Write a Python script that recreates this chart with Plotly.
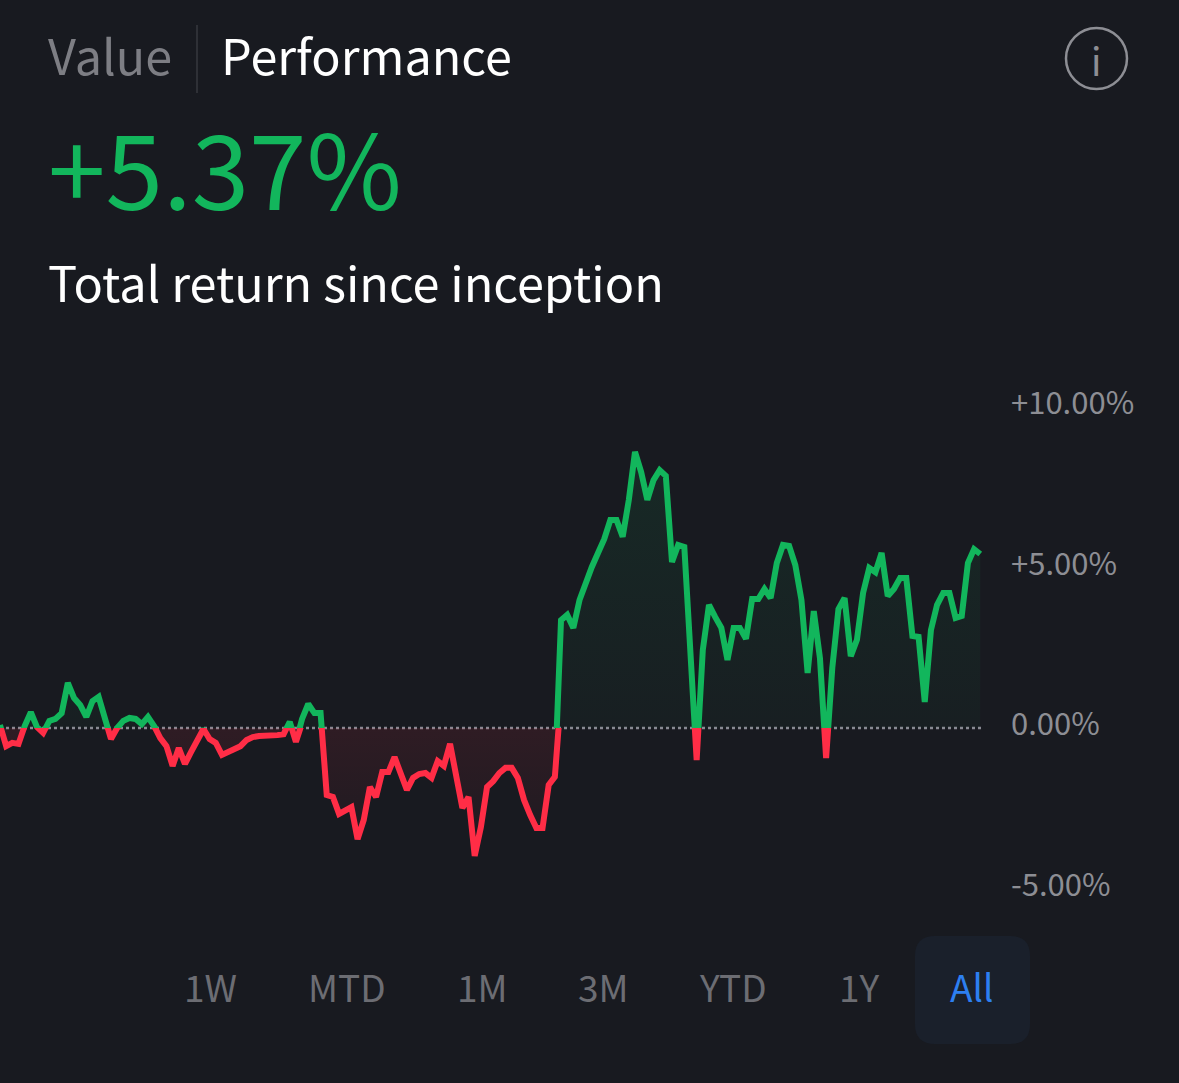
import plotly.graph_objects as go

W = 1179
H = 1083

# total return in %
returns = [
    0.09, -0.56, -0.46, -0.49, 0.06, 0.49, 0.03, -0.15, 0.22, 0.28,
    0.46, 1.39, 0.93, 0.71, 0.34, 0.83, 0.96, 0.31, -0.34, 0.00,
    0.22, 0.31, 0.28, 0.12, 0.34, 0.06, -0.31, -0.56, -1.17, -0.62,
    -1.11, -0.74, -0.37, -0.03, -0.34, -0.46, -0.83, -0.74, -0.65, -0.56,
    -0.37, -0.28, -0.25, -0.25, -0.22, -0.22, -0.19, 0.19, -0.43, 0.28,
    0.74, 0.46, 0.46, -2.07, -2.13, -2.65, -2.56, -2.44, -3.43, -2.84,
    -1.82, -2.13, -1.36, -1.36, -0.90, -1.45, -1.91, -1.54, -1.42, -1.39,
    -1.54, -1.02, -1.17, -0.49, -1.51, -2.47, -2.13, -3.95, -3.06, -1.82,
    -1.64, -1.39, -1.23, -1.23, -1.54, -2.22, -2.69, -3.09, -3.09, -1.76,
    -1.51, 3.33, 3.49, 3.09, 3.95, 4.51, 4.97, 5.40, 5.83, 6.42,
    6.42, 5.90, 7.04, 8.52, 7.90, 7.04, 7.65, 7.96, 7.78, 5.12,
    5.65, 5.59, 2.31, -0.99, 2.41, 3.80, 3.43, 3.09, 2.10, 3.09,
    3.09, 2.75, 3.98, 3.98, 4.29, 4.01, 5.09, 5.65, 5.62, 5.03,
    3.95, 1.70, 3.61, 2.16, -0.93, 1.85, 3.67, 4.01, 2.22, 2.72,
    4.17, 4.94, 4.81, 5.40, 4.07, 4.29, 4.63, 4.63, 2.84, 2.81,
    0.80, 3.02, 3.80, 4.17, 4.17, 3.40, 3.46, 5.09, 5.52, 5.37,
]
days = list(range(len(returns)))

y_ticks = [10, 5, 0, -5]
y_tick_labels = ["+10.00%", "+5.00%", "0.00%", "-5.00%"]
range_labels = ["1W", "MTD", "1M", "3M", "YTD", "1Y", "All"]
range_centers = [210, 347, 482, 603, 733, 859, 972]

BG = "#181a20"
GREEN = "#12b65c"
RED = "#ff2d46"
GREY = "#8d8e94"
FONT = "Noto Sans CJK SC"

PX_PER_PCT = 32.4
ZERO_Y = 728
TOP_Y = 380
BOTTOM_Y = 950
PX_PER_DAY = 6.165


def fx(px):
    return px / W


def fy(px):
    return 1 - px / H


fig = go.Figure()

# carries the tick labels, they sit a few pixels above the true levels
fig.add_trace(go.Scatter(
    x=days, y=returns, xaxis="x", yaxis="y3", mode="lines",
    line=dict(color="rgba(0,0,0,0)", width=0),
    hoverinfo="skip", showlegend=False))
# the same series twice, each axis only shows its own side of zero
fig.add_trace(go.Scatter(
    x=days, y=returns, xaxis="x", yaxis="y", mode="lines",
    line=dict(color=GREEN, width=6), fill="tozeroy",
    fillgradient=dict(type="vertical", start=0, stop=8.5,
                      colorscale=[[0, "rgba(18,182,92,0.03)"], [1, "rgba(18,182,92,0.10)"]]),
    hoverinfo="skip", showlegend=False))
fig.add_trace(go.Scatter(
    x=days, y=returns, xaxis="x", yaxis="y2", mode="lines",
    line=dict(color=RED, width=6), fill="tozeroy",
    fillgradient=dict(type="vertical", start=-4, stop=0,
                      colorscale=[[0, "rgba(255,45,70,0.02)"], [1, "rgba(255,45,70,0.10)"]]),
    hoverinfo="skip", showlegend=False))

annotations = [
    dict(text="Value", x=fx(47), y=fy(54), font=dict(size=48.5, color="#7d7e84")),
    dict(text="Performance", x=fx(219.5), y=fy(54), font=dict(size=48.5, color="#ffffff")),
    dict(text="+5.37%", x=fx(47), y=fy(165), font=dict(size=103.5, color=GREEN)),
    dict(text="Total return since inception", x=fx(47), y=fy(281), font=dict(size=48.6, color="#ffffff")),
]
for a in annotations:
    a.update(xref="paper", yref="paper", xanchor="left", yanchor="middle", showarrow=False, borderpad=0)
annotations.append(dict(text="i", x=fx(1096), y=fy(59), xref="paper", yref="paper",
                        xanchor="center", yanchor="middle", showarrow=False,
                        font=dict(size=38, color=GREY)))
for label, cx in zip(range_labels, range_centers):
    annotations.append(dict(text=label, x=fx(cx), y=fy(986), xref="paper", yref="paper",
                            xanchor="center", yanchor="middle", showarrow=False,
                            font=dict(size=37, color="#2d7ff0" if label == "All" else "#6c6d73")))

# rounded box behind "All"
l, r, t, b, rad = fx(915), fx(1030), fy(936), fy(1044), 20
rx, ry = rad / W, rad / H
box = (f"M {l+rx} {t} L {r-rx} {t} Q {r} {t} {r} {t-ry} L {r} {b+ry} Q {r} {b} {r-rx} {b} "
       f"L {l+rx} {b} Q {l} {b} {l} {b+ry} L {l} {t-ry} Q {l} {t} {l+rx} {t} Z")

shapes = [
    dict(type="line", xref="paper", yref="paper", x0=fx(197), x1=fx(197), y0=fy(25), y1=fy(93),
         line=dict(color="#36383e", width=1.5)),
    dict(type="circle", xref="paper", yref="paper", x0=fx(1066), x1=fx(1127), y0=fy(89), y1=fy(28),
         line=dict(color=GREY, width=2.5)),
    dict(type="path", xref="paper", yref="paper", path=box, fillcolor="#1a202b", line=dict(width=0), layer="below"),
    dict(type="line", xref="paper", yref="paper", x0=0, x1=fx(982), y0=fy(ZERO_Y), y1=fy(ZERO_Y), layer="below",
         line=dict(color="#8a8a94", width=2.5, dash="3px,3px")),
]

fig.update_layout(
    width=W, height=H, margin=dict(l=0, r=0, t=0, b=0),
    paper_bgcolor=BG, plot_bgcolor="rgba(0,0,0,0)",
    font=dict(family=FONT),
    showlegend=False,
    annotations=annotations,
    shapes=shapes,
    xaxis=dict(domain=[0, 1], range=[0, W / PX_PER_DAY], visible=False, anchor="y2"),
    yaxis=dict(domain=[fy(ZERO_Y), fy(TOP_Y)], range=[0, (ZERO_Y - TOP_Y) / PX_PER_PCT],
               visible=False, anchor="x"),
    yaxis2=dict(domain=[fy(BOTTOM_Y), fy(ZERO_Y)], range=[(ZERO_Y - BOTTOM_Y) / PX_PER_PCT, 0],
                visible=False, anchor="x"),
    yaxis3=dict(domain=[0, 1], range=[(724.5 - H) / 32.1, 724.5 / 32.1],
                anchor="free", position=fx(1010), side="right",
                tickmode="array", tickvals=y_ticks, ticktext=y_tick_labels,
                showgrid=False, zeroline=False, showline=False, ticks="",
                tickfont=dict(size=31, color=GREY, family=FONT)),
)

fig.write_html("out.html", config=dict(displayModeBar=False),
               post_script="document.body.style.margin='0';")
